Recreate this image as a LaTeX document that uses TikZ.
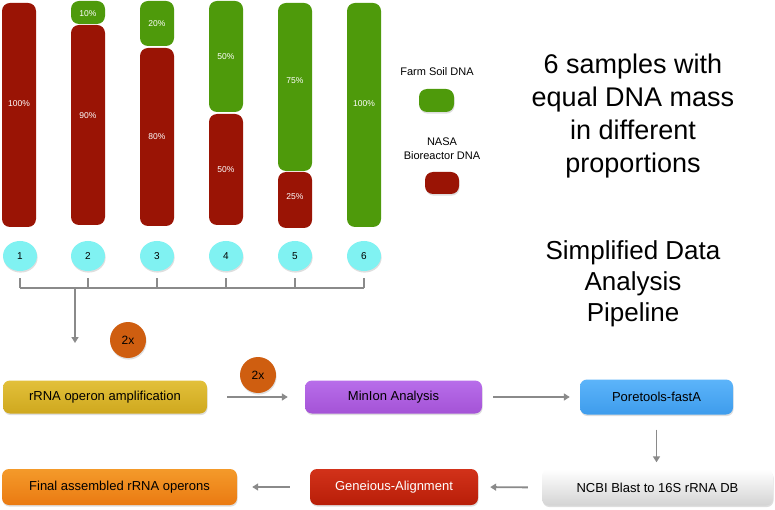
\documentclass[tikz,border=0pt]{standalone}
\usepackage{fontspec}
\setmainfont{Liberation Sans}
\usetikzlibrary{arrows.meta,shapes.geometric}
\definecolor{barred}{HTML}{9A1405}
\definecolor{bargreen}{HTML}{4E9A0B}
\definecolor{aqua}{HTML}{80F2F2}
\definecolor{badge}{HTML}{CF5E10}
\definecolor{arrowgrey}{HTML}{8A8A8A}
\definecolor{yel1}{HTML}{E2C03A}
\definecolor{yel2}{HTML}{CFA81E}
\definecolor{pur1}{HTML}{B86DEA}
\definecolor{pur2}{HTML}{A453D6}
\definecolor{blu1}{HTML}{5CB4FA}
\definecolor{blu2}{HTML}{3E9CEC}
\definecolor{gen1}{HTML}{D2321A}
\definecolor{gen2}{HTML}{B81E08}
\definecolor{fin1}{HTML}{F49A2A}
\definecolor{fin2}{HTML}{EA7A12}
\begin{document}
\begin{tikzpicture}[x=1pt,y=-1pt,
  softshadow/.style={preaction={fill=black, opacity=0.13, transform canvas={xshift=0.6pt,yshift=-1.6pt}}},
  seg/.style={rounded corners=8pt, minimum width=34pt, inner sep=0pt},
  redseg/.style={seg, fill=barred},
  greenseg/.style={seg, fill=bargreen},
  pct/.style={text=white, font=\fontsize{8.5}{9}\selectfont, inner sep=0pt},
  sample/.style={ellipse, softshadow, fill=aqua, minimum width=34pt, minimum height=30pt, inner sep=0pt,
    font=\fontsize{10}{11}\selectfont},
  twox/.style={circle, softshadow, fill=badge, minimum size=36pt, inner sep=0pt, font=\fontsize{12}{13}\selectfont},
  stepbox/.style={rounded corners=7pt, softshadow, inner sep=0pt, font=\fontsize{13}{15}\selectfont},
  conn/.style={draw=arrowgrey, line width=1.8pt},
  arr/.style={conn, -{Triangle[width=7pt,length=6pt]}},
  swatch/.style={rounded corners=8pt, softshadow, inner sep=0pt},
  legend/.style={font=\fontsize{11}{14}\selectfont, align=center, inner sep=0pt},
  title/.style={align=center, inner sep=0pt}]
\useasboundingbox (0,0) rectangle (775,510);
\fill[white] (0,0) rectangle (775,510);

% bars
\node[redseg, minimum height=224pt] (b1r) at (19,115) {};
\node[pct] (p1r) at (19,104) {100\%};

\node[greenseg, minimum height=23pt] (b2g) at (88,12.5) {};
\node[pct] (p2g) at (88,14) {10\%};
\node[redseg, minimum height=200pt] (b2r) at (88,125) {};
\node[pct] (p2r) at (88,116) {90\%};

\node[greenseg, minimum height=45pt] (b3g) at (157,23.5) {};
\node[pct] (p3g) at (157,24) {20\%};
\node[redseg, minimum height=178pt] (b3r) at (157,137) {};
\node[pct] (p3r) at (157,137) {80\%};

\node[greenseg, minimum height=111pt] (b4g) at (226,56.5) {};
\node[pct] (p4g) at (226,57) {50\%};
\node[redseg, minimum height=111pt] (b4r) at (226,169.5) {};
\node[pct] (p4r) at (226,170) {50\%};

\node[greenseg, minimum height=168pt] (b5g) at (295,87) {};
\node[pct] (p5g) at (295,81) {75\%};
\node[redseg, minimum height=56pt] (b5r) at (295,200) {};
\node[pct] (p5r) at (295,197) {25\%};

\node[greenseg, minimum height=224pt] (b6g) at (364,115) {};
\node[pct] (p6g) at (364,104) {100\%};

% legend
\node[legend] (lfarm) at (437,72) {Farm Soil DNA};
\node[swatch, fill=bargreen, minimum width=35pt, minimum height=23pt] (sgreen) at (436.5,100.5) {};
\node[legend] (lnasa) at (442,149) {NASA\\Bioreactor DNA};
\node[swatch, fill=barred, minimum width=34pt, minimum height=22pt] (sred) at (442,183) {};

% titles
\node[title, font=\fontsize{27}{33}\selectfont] (t1) at (633,116)
  {6 samples with\\equal DNA mass\\in different\\proportions};
\node[title, font=\fontsize{26}{31}\selectfont] (t2) at (633,284)
  {Simplified Data\\Analysis\\Pipeline};

% sample circles
\foreach \i/\x in {1/20,2/88,3/157,4/226,5/295,6/364}{
  \node[sample] (c\i) at (\x,256) {\i};
  \coordinate (k\i) at (\x,288);
  \draw[conn, line width=1.5pt, shorten <=7pt] (c\i.south) -- (k\i);
}
\draw[conn, line width=1.5pt] (k1) -- (k6);
\coordinate (kj) at (75,288);
\coordinate (kend) at (75,343);
\draw[arr] (kj) -- (kend);

% badges
\node[twox] (x1) at (128,340) {2x};
\node[twox] (x2) at (258,375) {2x};

% pipeline boxes
\node[stepbox, top color=yel1, bottom color=yel2, minimum width=204pt, minimum height=33pt] (rrna) at (105,397)
  {rRNA operon amplification};
\node[stepbox, top color=pur1, bottom color=pur2, minimum width=177pt, minimum height=33pt] (minion) at (393.5,397)
  {MinIon Analysis};
\node[stepbox, top color=blu1, bottom color=blu2, minimum width=153pt, minimum height=35pt] (pore) at (656.5,397)
  {Poretools-fastA};
\node[stepbox, top color=white, bottom color=black!17, minimum width=231pt, minimum height=36pt] (ncbi) at (657.5,487.5)
  {NCBI Blast to 16S rRNA DB};
\node[stepbox, top color=gen1, bottom color=gen2, text=white, minimum width=168pt, minimum height=36pt] (gen) at (394,487)
  {Geneious-Alignment};
\node[stepbox, top color=fin1, bottom color=fin2, minimum width=235pt, minimum height=36pt] (final) at (119.5,487)
  {Final assembled rRNA operons};

% connectors
\draw[arr, shorten <=20pt, shorten >=17pt] (rrna.east) -- (minion.west);
\draw[arr, shorten <=11pt, shorten >=10pt] (minion.east) -- (pore.west);
\draw[arr, shorten <=15pt, shorten >=7pt] (pore.south) -- (pore.south |- ncbi.north);
\draw[arr, shorten <=14pt, shorten >=12pt] (ncbi.west) -- (gen.east);
\draw[arr, shorten <=20pt, shorten >=15pt] (gen.west) -- (final.east);
\end{tikzpicture}
\end{document}
